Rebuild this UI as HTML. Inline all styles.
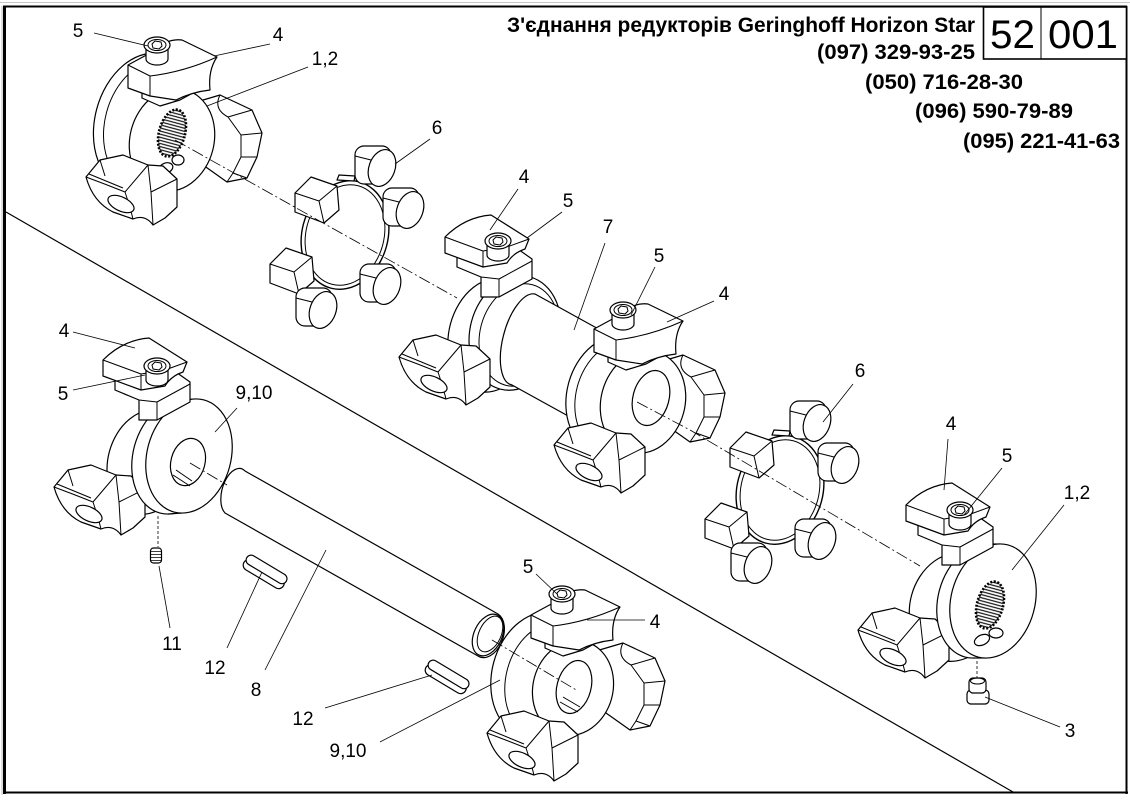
<!DOCTYPE html>
<html>
<head>
<meta charset="utf-8">
<style>
  html,body{margin:0;padding:0;background:#fff;}
  svg{display:block;}
</style>
</head>
<body>
<svg width="1130" height="800" viewBox="0 0 1130 800" xmlns="http://www.w3.org/2000/svg">
<defs>
  <style>
    .s{fill:#fff;stroke:#000;stroke-width:1.2;stroke-linejoin:round}
    .n{fill:none;stroke:#000;stroke-width:1;stroke-linejoin:round}
    .t{fill:none;stroke:#000;stroke-width:0.8}
    .c{fill:none;stroke:#000;stroke-width:0.8;stroke-dasharray:12 3 2 3}
    .lb{font-family:"Liberation Sans",Arial,sans-serif;font-size:19px;fill:#000;text-anchor:middle}
    .hd{font-family:"Liberation Sans","DejaVu Sans",sans-serif;font-weight:bold;font-size:21px;fill:#000}
  </style>
  <pattern id="hatch" width="4" height="3" patternUnits="userSpaceOnUse">
    <rect width="4" height="3" fill="#fff"/>
    <line x1="0" y1="1.2" x2="4" y2="1.2" stroke="#000" stroke-width="1.1"/>
  </pattern>

  <!-- clamp, plate on left (type L); origin = clamp centre -->
  <g id="clampL">
    <path class="s" d="M-28,18 L-28,30 L-4,40 L-4,60 L14,60 L47,42 L47,22 L30,10 Z"/>
    <path class="n" d="M-4,40 L14,42 L47,24 M14,42 L14,60"/>
    <path class="s" d="M-40,16 L-40,0 Q-20,-20 6,-22 L44,2 L40,12 Q28,16 22,26 L-2,30 Z"/>
    <path class="n" d="M-40,0 L-2,14 L22,10 L44,2 M-2,14 L-2,30"/>
  </g>

  <!-- clamp, plate on right (type R); origin = clamp centre -->
  <g id="clampR">
    <path class="s" d="M-30,20 L-30,38 L-12,46 L8,40 L30,28 L30,14 Z"/>
    <path class="s" d="M-44,5 L-20,-8 Q-5,-22 10,-20 L45,-3 Q36,10 38,30 Q20,32 4,40 L-22,36 L-44,28 Z"/>
    <path class="n" d="M-44,5 L-22,16 L-22,36 M-22,16 Q12,12 45,-3"/>
  </g>

  <!-- screw; origin = top centre -->
  <g id="screw">
    <path class="s" d="M-11,0 L-11,14 A11,6 0 0 0 11,14 L11,0 Z"/>
    <ellipse class="s" cx="0" cy="0" rx="13" ry="8"/>
    <ellipse class="n" cx="0" cy="0" rx="9" ry="5.5"/>
    <polygon class="n" points="-5,-1 -2,-4 4,-3 5,1 2,4 -4,3"/>
  </g>

  <!-- lower jaw; origin = top-left -->
  <g id="jaw">
    <path class="s" d="M1,25 L15,8 L38,3 L63,13 L78,14 L92,27 L92,55 L80,66 L68,73 Q60,62 48,67 L28,60 Q8,50 1,25 Z"/>
    <path class="n" d="M1,25 Q20,32 40,40 L63,13 M40,40 Q45,55 48,67 M63,13 L66,40 L92,27 M66,40 L68,73 M15,8 L20,24 M4,22 L38,36"/>
    <ellipse class="s" cx="36" cy="52" rx="14" ry="7" transform="rotate(25 36 52)"/>
  </g>

  <!-- hex jaw (back right); origin = top-left -->
  <g id="hex">
    <path class="s" d="M0,8 L27,0 L59,15 L69,38 L64,62 L54,83 L34,87 L10,70 Z"/>
    <path class="n" d="M27,0 Q20,14 35,22 L59,15 M35,22 L48,40 L69,38 M48,40 L48,62 L64,62 M48,62 L40,78 L54,83 M40,78 L34,87"/>
  </g>

  <!-- spider cams -->
  <g id="camR">
    <rect class="s" x="-22" y="-19" width="36" height="38" rx="9"/>
    <path class="n" d="M-22,-9 L-6,-5"/>
    <ellipse class="s" cx="5" cy="3" rx="13" ry="19" transform="rotate(20 5 3)"/>
  </g>
  <g id="camB">
    <polygon class="s" points="-22,-6 -6,-22 20,-13 22,11 7,24 -22,13"/>
    <path class="n" d="M-22,-6 L2,2 L20,-13 M2,2 L7,24"/>
  </g>

  <g id="spider">
    <ellipse class="n" cx="0" cy="0" rx="43" ry="55" transform="rotate(15)" style="stroke-width:1.4"/>
    <ellipse class="n" cx="0" cy="0" rx="39" ry="51" transform="rotate(15)"/>
    <path class="s" d="M-8,-55 L-6,-60 L10,-59 L9,-54 Z"/>
    <path class="s" d="M-30,54 L-28,58 L-20,60 L-21,55 Z"/>
    <use href="#camR" x="32" y="-70"/>
    <use href="#camR" x="60" y="-28"/>
    <use href="#camB" x="-28" y="-36"/>
    <use href="#camB" x="-53" y="35"/>
    <use href="#camR" x="-27" y="72"/>
    <use href="#camR" x="37" y="48"/>
  </g>

  <g id="spline">
    <ellipse cx="0" cy="0" rx="13" ry="24" transform="rotate(15)" fill="url(#hatch)" stroke="#000" stroke-width="2.6" stroke-dasharray="2 1.6"/>
  </g>
</defs>

<rect x="0" y="0" width="1130" height="800" fill="#fff"/>

<!-- frame -->
<line x1="0" y1="2.5" x2="1130" y2="2.5" stroke="#c8c8c8" stroke-width="1"/>
<line x1="3" y1="6.5" x2="1127" y2="6.5" stroke="#000" stroke-width="2"/>
<line x1="4.5" y1="6" x2="4.5" y2="794" stroke="#000" stroke-width="3"/>
<line x1="3" y1="792.5" x2="1128" y2="792.5" stroke="#000" stroke-width="2"/>
<line x1="1126.5" y1="6" x2="1126.5" y2="794" stroke="#000" stroke-width="2"/>
<line x1="2" y1="6" x2="2" y2="795" stroke="#bbb" stroke-width="1"/>

<!-- header box -->
<rect x="983.5" y="7" width="143" height="52" fill="#fff" stroke="#000" stroke-width="1.6"/>
<line x1="1041" y1="7" x2="1041" y2="59" stroke="#000" stroke-width="1"/>
<text x="990" y="48" font-family="Liberation Sans,Arial,sans-serif" font-size="40" textLength="45" lengthAdjust="spacingAndGlyphs">52</text>
<text x="1048" y="48" font-family="Liberation Sans,Arial,sans-serif" font-size="40" textLength="70" lengthAdjust="spacingAndGlyphs">001</text>

<text class="hd" x="507" y="32" textLength="468" lengthAdjust="spacingAndGlyphs">З'єднання редукторів Geringhoff Horizon Star</text>
<text class="hd" x="817" y="59" textLength="158" lengthAdjust="spacingAndGlyphs">(097) 329-93-25</text>
<text class="hd" x="865" y="89" textLength="158" lengthAdjust="spacingAndGlyphs">(050) 716-28-30</text>
<text class="hd" x="915" y="118" textLength="158" lengthAdjust="spacingAndGlyphs">(096) 590-79-89</text>
<text class="hd" x="963" y="148" textLength="157" lengthAdjust="spacingAndGlyphs">(095) 221-41-63</text>

<!-- diagonal divider -->
<line x1="6" y1="212" x2="1013" y2="792" stroke="#000" stroke-width="1.2"/>

<!-- ============ Coupling A (top-left, 1,2) ============ -->
<use href="#hex" x="193" y="95"/>
<ellipse class="s" cx="145" cy="122" rx="50" ry="70" transform="rotate(15 145 122)"/>
<ellipse class="n" cx="150" cy="124" rx="45" ry="64" transform="rotate(15 150 124)"/>
<ellipse class="s" cx="172" cy="140" rx="42" ry="52" transform="rotate(15 172 140)"/>
<use href="#spline" x="172" y="133"/>
<ellipse class="s" cx="166" cy="168" rx="7" ry="5" transform="rotate(-20 166 168)"/>
<ellipse class="s" cx="178" cy="160" rx="6" ry="5"/>
<use href="#jaw" x="85" y="152"/>
<use href="#clampR" x="172" y="60"/>
<use href="#screw" x="157" y="45"/>

<!-- ============ Spider 1 ============ -->
<use href="#spider" x="345" y="235"/>

<!-- ============ Coupling B (middle-left) ============ -->
<ellipse class="s" cx="492" cy="335" rx="43" ry="58" transform="rotate(15 492 335)"/>
<ellipse class="s" cx="515" cy="333" rx="45" ry="58" transform="rotate(15 515 333)"/>
<ellipse class="n" cx="519" cy="335" rx="39" ry="52" transform="rotate(15 519 335)"/>
<!-- tube 7 -->
<path class="s" d="M535,294 L622,342 L599,433 L512,385 A20,46 15 0 1 535,294 Z"/>
<use href="#jaw" x="398" y="332"/>
<use href="#clampL" x="485" y="237"/>
<use href="#screw" x="498" y="241"/>

<!-- ============ Coupling C (middle-right) ============ -->
<use href="#hex" x="656" y="355"/>
<ellipse class="s" cx="612" cy="395" rx="45" ry="60" transform="rotate(15 612 395)"/>
<ellipse class="n" cx="617" cy="397" rx="41" ry="56" transform="rotate(15 617 397)"/>
<ellipse class="s" cx="643" cy="402" rx="42" ry="52" transform="rotate(15 643 402)"/>
<ellipse class="s" cx="651" cy="398" rx="18" ry="28" transform="rotate(15 651 398)"/>
<use href="#jaw" x="553" y="420"/>
<use href="#clampR" x="638" y="324"/>
<use href="#screw" x="623" y="310"/>

<!-- ============ Spider 2 ============ -->
<use href="#spider" x="780" y="490"/>

<!-- ============ Coupling F (bottom-right, 1,2) ============ -->
<ellipse class="s" cx="955" cy="607" rx="45" ry="55" transform="rotate(15 955 607)"/>
<use href="#jaw" x="857" y="605"/>
<ellipse class="s" cx="980" cy="601" rx="42" ry="58" transform="rotate(15 980 601)"/>
<polygon points="987,544 1000,544 986,658 973,658" fill="#fff"/>
<line x1="987" y1="544" x2="1000" y2="544" stroke="#000" stroke-width="1.2"/>
<line x1="973" y1="658" x2="986" y2="658" stroke="#000" stroke-width="1.2"/>
<ellipse class="s" cx="993" cy="601" rx="42" ry="58" transform="rotate(15 993 601)"/>
<use href="#spline" x="990" y="605"/>
<ellipse class="s" cx="982" cy="640" rx="8" ry="5" transform="rotate(-25 982 640)"/>
<ellipse class="s" cx="996" cy="633" rx="7" ry="5"/>
<use href="#clampL" x="946" y="505"/>
<use href="#screw" x="960" y="510"/>
<!-- set screw 3 -->
<line x1="977" y1="661" x2="977" y2="678" stroke="#000" stroke-width="0.8" stroke-dasharray="3 2"/>
<rect class="s" x="967" y="690" width="22" height="14" rx="4"/>
<rect class="s" x="969" y="678" width="17" height="15" rx="4"/>
<ellipse class="n" cx="977.5" cy="681" rx="7" ry="3"/>

<!-- ============ Coupling D (left, 9,10) ============ -->
<ellipse class="s" cx="148" cy="462" rx="40" ry="53" transform="rotate(15 148 462)"/>
<use href="#jaw" x="53" y="462"/>
<ellipse class="s" cx="175" cy="457" rx="42" ry="58" transform="rotate(15 175 457)"/>
<polygon points="182,400 196,399 182,513 168,514" fill="#fff"/>
<line x1="182" y1="400" x2="196" y2="399" stroke="#000" stroke-width="1.2"/>
<line x1="168" y1="514" x2="182" y2="513" stroke="#000" stroke-width="1.2"/>
<ellipse class="s" cx="189" cy="456" rx="42" ry="58" transform="rotate(15 189 456)"/>
<ellipse class="s" cx="188" cy="462" rx="17" ry="24" transform="rotate(15 188 462)"/>
<path class="n" d="M173,475 L190,486 M176,470 L192,481"/>
<use href="#clampL" x="143" y="360"/>
<use href="#screw" x="157" y="366"/>
<!-- set screw 11 -->
<line x1="158" y1="516" x2="158" y2="547" stroke="#000" stroke-width="0.8" stroke-dasharray="3 2"/>
<rect class="s" x="150.5" y="548" width="11" height="15" rx="3"/>
<path class="n" d="M151,551.5 H161 M151,554.5 H161 M151,557.5 H161 M151,560.5 H161" style="stroke-width:0.8"/>

<!-- ============ Shaft 8 ============ -->
<path class="s" d="M245,471 L498,614 A15,23 20 0 1 478,656 L225,513 A12,22 15 0 1 245,471 Z"/>
<ellipse class="s" cx="488" cy="635" rx="14" ry="22" transform="rotate(25 488 635)"/>
<ellipse class="n" cx="490" cy="634" rx="11" ry="19" transform="rotate(25 490 634)"/>

<!-- keys 12 -->
<g transform="translate(265,572) rotate(31)">
  <rect class="s" x="-23" y="-3" width="46" height="11" rx="5.5"/>
  <rect class="s" x="-23" y="-8" width="46" height="10" rx="5"/>
</g>
<g transform="translate(447,677) rotate(31)">
  <rect class="s" x="-23" y="-3" width="46" height="11" rx="5.5"/>
  <rect class="s" x="-23" y="-8" width="46" height="10" rx="5"/>
</g>

<!-- ============ Coupling E (bottom, 9,10) ============ -->
<use href="#hex" x="596" y="643"/>
<ellipse class="s" cx="540" cy="675" rx="48" ry="64" transform="rotate(15 540 675)"/>
<ellipse class="n" cx="548" cy="680" rx="42" ry="58" transform="rotate(15 548 680)"/>
<ellipse class="s" cx="573" cy="688" rx="40" ry="48" transform="rotate(15 573 688)"/>
<ellipse class="s" cx="574" cy="687" rx="17" ry="27" transform="rotate(15 574 687)"/>
<path class="n" d="M560,702 L578,712 M563,697 L580,707"/>
<use href="#jaw" x="486" y="708"/>
<use href="#clampR" x="575" y="610"/>
<use href="#screw" x="562" y="594"/>

<!-- ============ centerlines ============ -->
<path class="c" d="M175,140 L457,298"/>
<path class="c" d="M637,402 L690,430 L920,566"/>
<path class="c" d="M190,463 L227,485"/>
<path class="c" d="M492,640 L578,691"/>

<!-- ============ leaders ============ -->
<path class="t" d="M94,33 L148,46"/>
<path class="t" d="M270,44 L214,56"/>
<path class="t" d="M308,67 L207,106"/>
<path class="t" d="M430,139 L395,164"/>
<path class="t" d="M518,189 L490,230"/>
<path class="t" d="M562,212 L527,238"/>
<path class="t" d="M605,243 L574,330"/>
<path class="t" d="M655,267 L631,315"/>
<path class="t" d="M714,301 L667,322"/>
<path class="t" d="M853,384 L823,422"/>
<path class="t" d="M948,439 L944,490"/>
<path class="t" d="M1002,468 L964,515"/>
<path class="t" d="M1064,505 L1012,570"/>
<path class="t" d="M1060,727 L985,697"/>
<path class="t" d="M73,332 L135,348"/>
<path class="t" d="M73,390 L145,375"/>
<path class="t" d="M237,408 L215,432"/>
<path class="t" d="M170,628 L159,566"/>
<path class="t" d="M227,648 L262,572"/>
<path class="t" d="M265,670 L326,550"/>
<path class="t" d="M536,574 L557,594"/>
<path class="t" d="M645,620 L587,620"/>
<path class="t" d="M325,708 L432,675"/>
<path class="t" d="M380,742 L500,680"/>

<!-- ============ labels ============ -->
<text class="lb" x="78" y="37">5</text>
<text class="lb" x="278" y="41">4</text>
<text class="lb" x="325" y="65">1,2</text>
<text class="lb" x="437" y="134">6</text>
<text class="lb" x="524" y="183">4</text>
<text class="lb" x="568" y="207">5</text>
<text class="lb" x="608" y="233">7</text>
<text class="lb" x="659" y="262">5</text>
<text class="lb" x="724" y="300">4</text>
<text class="lb" x="860" y="377">6</text>
<text class="lb" x="951" y="430">4</text>
<text class="lb" x="1007" y="462">5</text>
<text class="lb" x="1077" y="499">1,2</text>
<text class="lb" x="1070" y="737">3</text>
<text class="lb" x="64" y="337">4</text>
<text class="lb" x="63" y="400">5</text>
<text class="lb" x="254" y="399">9,10</text>
<text class="lb" x="172" y="650">11</text>
<text class="lb" x="215" y="674">12</text>
<text class="lb" x="256" y="696">8</text>
<text class="lb" x="528" y="573">5</text>
<text class="lb" x="655" y="628">4</text>
<text class="lb" x="303" y="725">12</text>
<text class="lb" x="348" y="757">9,10</text>
</svg>
</body>
</html>
